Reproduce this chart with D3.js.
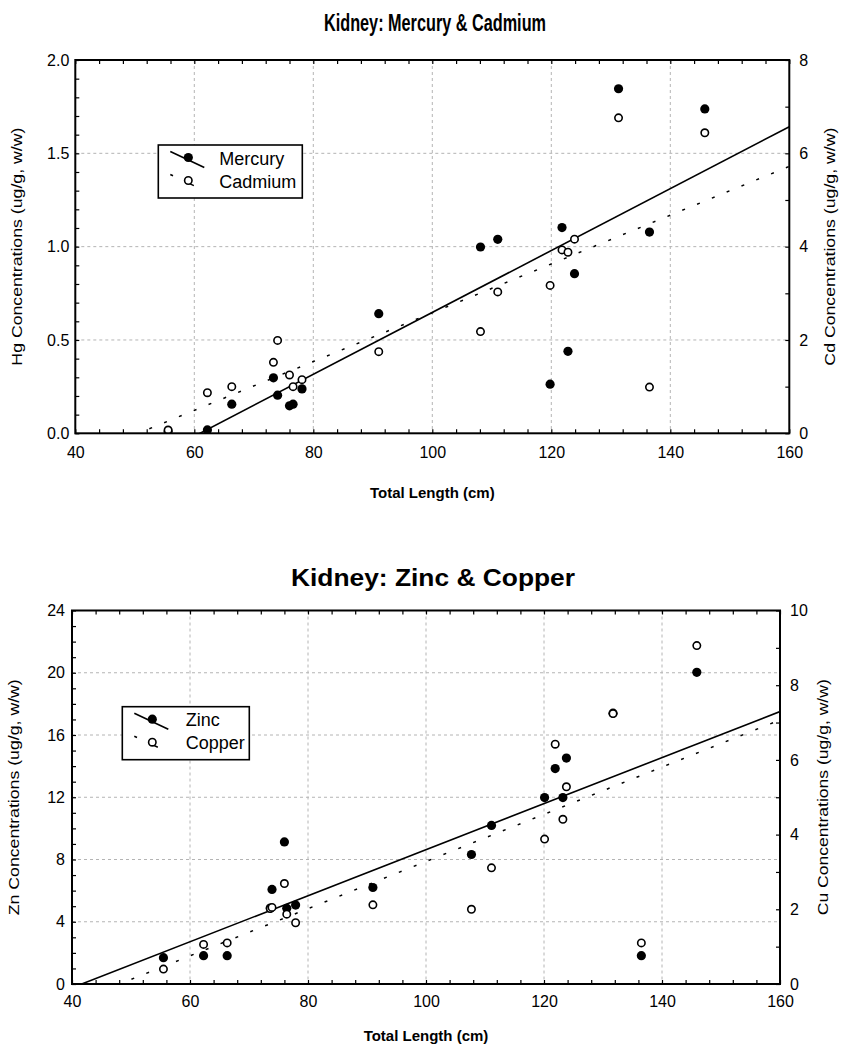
<!DOCTYPE html>
<html><head><meta charset="utf-8">
<script src="https://cdn.jsdelivr.net/npm/d3@7"></script>
<style>
body{margin:0;background:#fff}
svg{display:block}
text{font-family:"Liberation Sans",Arial,sans-serif;fill:#000}
</style>
</head><body>
<svg id="c" width="841" height="1051"></svg>
<script>
// ---- data ----
const lengthHgCd = [55.6, 62.2, 66.3, 73.3, 74.0, 76.0, 76.6, 78.1, 91.0, 108.1, 111.0, 119.8, 121.8, 122.8, 123.9, 131.3, 136.5, 145.8];
const mercury    = [0.01, 0.018, 0.156, 0.297, 0.204, 0.147, 0.156, 0.238, 0.641, 0.998, 1.039, 0.263, 1.102, 0.439, 0.855, 1.846, 1.078, 1.738];
const cadmium    = [0.07, 0.87, 1.00, 1.52, 1.99, 1.25, 1.00, 1.15, 1.75, 2.18, 3.03, 3.17, 3.93, 3.88, 4.16, 6.76, 0.99, 6.44];

const lengthZnCu = [55.5, 62.3, 66.3, 73.6, 73.9, 76.0, 76.4, 77.9, 91.0, 107.7, 111.1, 120.1, 121.9, 123.2, 123.8, 131.7, 136.5, 145.9];
const zinc       = [1.69, 1.82, 1.82, 4.88, 6.08, 9.13, 4.86, 5.07, 6.20, 8.32, 10.19, 11.98, 13.84, 11.98, 14.52, 17.40, 1.82, 20.03];
const copper     = [0.40, 1.06, 1.10, 2.02, 2.05, 2.69, 1.87, 1.64, 2.12, 2.00, 3.11, 3.88, 6.42, 4.41, 5.28, 7.24, 1.10, 9.06];

const xTickLabels  = [40, 60, 80, 100, 120, 140, 160];
const hgTickLabels = [0, 0.5, 1.0, 1.5, 2.0];
const cdTickLabels = [0, 2, 4, 6, 8];
const znTickLabels = [0, 4, 8, 12, 16, 20, 24];
const cuTickLabels = [0, 2, 4, 6, 8, 10];

const chartTitles = ["Kidney: Mercury & Cadmium", "Kidney: Zinc & Copper"];
const xTitle = "Total Length (cm)";
const leftTitles = ["Hg Concentrations (ug/g, w/w)", "Zn Concentrations (ug/g, w/w)"];
const rightTitles = ["Cd Concentrations (ug/g, w/w)", "Cu Concentrations (ug/g, w/w)"];
const legendNames = [["Mercury", "Cadmium"], ["Zinc", "Copper"]];

// ---- drawing ----
const svg = d3.select("#c");

function ols(xs, ys) {
  const pts = xs.map((x, i) => [x, ys[i]]).filter(p => p[1] != null);
  const mx = d3.mean(pts, p => p[0]), my = d3.mean(pts, p => p[1]);
  const sxy = d3.sum(pts, p => (p[0] - mx) * (p[1] - my));
  const sxx = d3.sum(pts, p => (p[0] - mx) ** 2);
  const b = sxy / sxx;
  return { a: my - b * mx, b };
}

function fitText(sel, len) {
  sel.attr("textLength", len).attr("lengthAdjust", "spacingAndGlyphs");
}

function drawChart(o, idx) {
  const g = svg.append("g");
  const x = d3.scaleLinear().domain([40, 160]).range([o.left, o.right]);
  const yL = d3.scaleLinear().domain([0, o.lMax]).range([o.bottom, o.top]);
  const yR = d3.scaleLinear().domain([0, o.rMax]).range([o.bottom, o.top]);
  const W = o.right - o.left, H = o.bottom - o.top;

  const clipId = "clip" + idx;
  g.append("clipPath").attr("id", clipId).append("rect")
    .attr("x", o.left).attr("y", o.top).attr("width", W).attr("height", H);

  // grid
  const grid = g.append("g").attr("stroke", "#b4b4b4").attr("stroke-width", 1).attr("stroke-dasharray", "3,3");
  grid.selectAll("line.v").data(xTickLabels.slice(1, -1)).join("line")
    .attr("x1", d => x(d)).attr("x2", d => x(d)).attr("y1", o.top).attr("y2", o.bottom);
  grid.selectAll("line.h").data(o.lLabels.slice(1, -1)).join("line")
    .attr("x1", o.left).attr("x2", o.right).attr("y1", d => yL(d)).attr("y2", d => yL(d));

  // axes
  const fontSize = 16;
  const xMinor = d3.range(40, 160.001, 4);
  const isMajorX = d => xTickLabels.some(v => Math.abs(v - d) < 1e-6);
  const axB = g.append("g").attr("transform", `translate(0,${o.bottom})`)
    .call(d3.axisBottom(x).tickValues(xMinor).tickSize(-4).tickPadding(o.xPad)
      .tickFormat(d => isMajorX(d) ? d3.format("d")(d) : ""));
  const axT = g.append("g").attr("transform", `translate(0,${o.top})`)
    .call(d3.axisTop(x).tickValues(xMinor).tickSize(-4).tickFormat(""));
  const lVals = d3.range(0, o.lMax + 1e-6, o.lMinor);
  const isMajorL = d => o.lLabels.some(v => Math.abs(v - d) < 1e-6);
  const axL = g.append("g").attr("transform", `translate(${o.left},0)`)
    .call(d3.axisLeft(yL).tickValues(lVals).tickSize(-4).tickPadding(o.lPad)
      .tickFormat(d => isMajorL(d) ? o.lFmt(d) : ""));
  const rVals = d3.range(0, o.rMax + 1e-6, 1);
  const isMajorR = d => o.rLabels.some(v => Math.abs(v - d) < 1e-6);
  const axR = g.append("g").attr("transform", `translate(${o.right},0)`)
    .call(d3.axisRight(yR).tickValues(rVals).tickSize(-4).tickPadding(o.rPad)
      .tickFormat(d => isMajorR(d) ? d3.format("d")(d) : ""));
  [axB, axT, axL, axR].forEach(a => {
    a.select(".domain").remove();
    a.selectAll("line").attr("stroke", "#000").attr("stroke-width", 1.2);
    a.selectAll("text").attr("font-size", fontSize).attr("font-family", '"Liberation Sans",Arial,sans-serif').attr("fill", "#000");
  });

  // regression lines
  const fitL = ols(o.xs, o.ls), fitR = ols(o.xs, o.rs);
  const lineG = g.append("g").attr("clip-path", `url(#${clipId})`);
  const line = d3.line().x(d => x(d[0])).y(d => d[1]);
  lineG.append("path")
    .attr("d", line([[40, yL(fitL.a + fitL.b * 40)], [160, yL(fitL.a + fitL.b * 160)]]))
    .attr("fill", "none").attr("stroke", "#000").attr("stroke-width", 1.6);
  lineG.append("path")
    .attr("d", line([[40, yR(fitR.a + fitR.b * 40)], [160, yR(fitR.a + fitR.b * 160)]]))
    .attr("fill", "none").attr("stroke", "#000").attr("stroke-width", 1.5).attr("stroke-dasharray", "3,13");

  // points
  const ptG = g.append("g").attr("clip-path", `url(#${clipId})`);
  ptG.selectAll("circle.f").data(o.xs.map((v, i) => [v, o.ls[i]]).filter(d => d[1] != null)).join("circle")
    .attr("cx", d => x(d[0])).attr("cy", d => yL(d[1])).attr("r", 4.6).attr("fill", "#000");
  ptG.selectAll("circle.o").data(o.xs.map((v, i) => [v, o.rs[i]]).filter(d => d[1] != null)).join("circle")
    .attr("cx", d => x(d[0])).attr("cy", d => yR(d[1])).attr("r", 3.7)
    .attr("fill", "#fff").attr("stroke", "#000").attr("stroke-width", 1.6);

  // frame
  g.append("rect").attr("x", o.left).attr("y", o.top).attr("width", W).attr("height", H)
    .attr("fill", "none").attr("stroke", "#000").attr("stroke-width", 2);

  // titles
  g.append("text").attr("x", o.titleX).attr("y", o.titleY).attr("text-anchor", "middle")
    .attr("font-size", o.titleSize).attr("font-weight", "bold").text(chartTitles[idx])
    .call(fitText, o.titleW);
  g.append("text").attr("x", (o.left + o.right) / 2).attr("y", o.xTitleY).attr("text-anchor", "middle")
    .attr("font-size", 15).attr("font-weight", "bold").text(xTitle);
  g.append("text").attr("transform", `translate(${o.lTitleX},${(o.top + o.bottom) / 2}) rotate(-90)`)
    .attr("text-anchor", "middle").attr("font-size", 14).text(leftTitles[idx]).call(fitText, o.yTitleW);
  g.append("text").attr("transform", `translate(${o.rTitleX},${(o.top + o.bottom) / 2}) rotate(-90)`)
    .attr("text-anchor", "middle").attr("font-size", 14).text(rightTitles[idx]).call(fitText, o.yTitleW);

  // legend
  const lg = g.append("g");
  lg.append("rect").attr("x", o.lgX).attr("y", o.lgY).attr("width", o.lgW).attr("height", 53)
    .attr("fill", "#fff").attr("stroke", "#000").attr("stroke-width", 1.6);
  const rows = [o.lgY + 12.5, o.lgY + 35.5];
  const cx = o.lgX + 30;
  lg.append("line").attr("x1", cx - 18).attr("y1", rows[0] - 6).attr("x2", cx + 16).attr("y2", rows[0] + 10)
    .attr("stroke", "#000").attr("stroke-width", 1.6);
  lg.append("circle").attr("cx", cx).attr("cy", rows[0]).attr("r", 4.6).attr("fill", "#000");
  lg.append("line").attr("x1", cx - 18).attr("y1", rows[1] - 6).attr("x2", cx + 16).attr("y2", rows[1] + 10)
    .attr("stroke", "#000").attr("stroke-width", 1.5).attr("stroke-dasharray", "3,15,8,20");
  lg.append("circle").attr("cx", cx).attr("cy", rows[1]).attr("r", 3.7)
    .attr("fill", "#fff").attr("stroke", "#000").attr("stroke-width", 1.6);
  lg.selectAll("text.lg").data(legendNames[idx]).join("text")
    .attr("x", o.lgX + o.lgTextDx).attr("y", (d, i) => rows[i] + 7)
    .attr("font-size", 18).text(d => d);
}

drawChart({
  left: 75.3, right: 789.3, top: 60, bottom: 433.3,
  lMax: 2, lMinor: 0.1, lLabels: hgTickLabels, lFmt: d3.format(".1f"),
  rMax: 8, rLabels: cdTickLabels,
  xs: lengthHgCd, ls: mercury, rs: cadmium,
  xPad: 13, lPad: 6, rPad: 10,
  titleX: 435, titleY: 31, titleSize: 23, titleW: 222,
  xTitleY: 498, lTitleX: 22, rTitleX: 835, yTitleW: 238,
  lgX: 158.3, lgY: 145, lgW: 144, lgTextDx: 61
}, 0);

drawChart({
  left: 72, right: 780, top: 610.5, bottom: 984,
  lMax: 24, lMinor: 1, lLabels: znTickLabels, lFmt: d3.format("d"),
  rMax: 10, rLabels: cuTickLabels,
  xs: lengthZnCu, ls: zinc, rs: copper,
  xPad: 12, lPad: 7, rPad: 10,
  titleX: 433, titleY: 586, titleSize: 24, titleW: 284,
  xTitleY: 1041, lTitleX: 19, rTitleX: 828, yTitleW: 236,
  lgX: 122.3, lgY: 706.7, lgW: 127, lgTextDx: 63.4
}, 1);
</script>
</body></html>
